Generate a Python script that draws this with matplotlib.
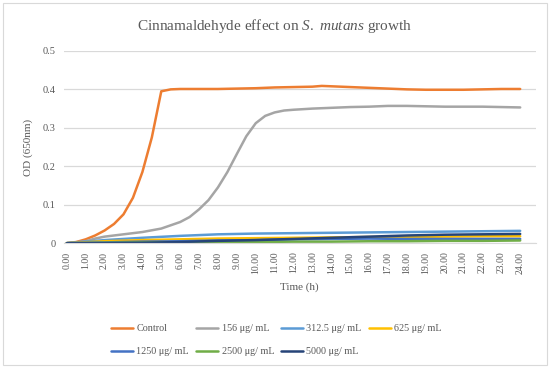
import matplotlib.pyplot as plt
from matplotlib.patches import Rectangle

# data (hours, OD 650nm)
hours_half = [0, 0.5, 1, 1.5, 2, 2.5, 3, 3.5, 4, 4.5, 4.75, 5, 5.5, 6, 7, 8, 9, 10,
              11, 12, 13, 13.5, 14, 15, 16, 17, 18, 19, 20, 21, 22, 23, 24]
control = [0.000, 0.003, 0.010, 0.020, 0.033, 0.050, 0.075, 0.118, 0.185, 0.275, 0.335,
           0.395, 0.400, 0.401, 0.401, 0.401, 0.402, 0.403,
           0.405, 0.406, 0.407, 0.409, 0.408, 0.406, 0.404, 0.402, 0.400, 0.399, 0.399,
           0.399, 0.400, 0.401, 0.401]

hours_156 = [0, 1, 1.5, 2, 3, 4, 5, 6, 6.5, 7, 7.5, 8, 8.5, 9, 9.5, 10, 10.5, 11,
             11.5, 12, 13, 14, 15, 16, 17, 18, 19, 20, 21, 22, 23, 24]
c156 = [0.000, 0.005, 0.012, 0.017, 0.023, 0.029, 0.038, 0.055, 0.068, 0.088, 0.112,
        0.145, 0.185, 0.232, 0.278, 0.312, 0.331, 0.340,
        0.345, 0.347, 0.350, 0.352, 0.354, 0.355, 0.357, 0.357, 0.356, 0.355, 0.355,
        0.355, 0.354, 0.353]

hours_low = [0, 2, 4, 6, 8, 10, 12, 14, 16, 18, 20, 22, 24]
c312 = [0, 0.008, 0.014, 0.019, 0.023, 0.025, 0.026, 0.027, 0.028, 0.029, 0.030, 0.031, 0.032]
c625 = [0, 0.005, 0.008, 0.010, 0.012, 0.013, 0.014, 0.015, 0.016, 0.016, 0.017, 0.018, 0.018]
c1250 = [0, 0.002, 0.004, 0.005, 0.007, 0.008, 0.010, 0.011, 0.012, 0.011, 0.011, 0.011, 0.011]
c2500 = [0, 0.001, 0.002, 0.002, 0.003, 0.003, 0.004, 0.004, 0.005, 0.005, 0.006, 0.006, 0.007]
c5000 = [0, 0.000, 0.001, 0.003, 0.006, 0.008, 0.011, 0.014, 0.017, 0.020, 0.022, 0.023, 0.024]

x_ticks = list(range(0, 25))
x_labels = [f"{h}.00" for h in x_ticks]
y_ticks = [0, 0.1, 0.2, 0.3, 0.4, 0.5]
y_labels = ["0", "0.1", "0.2", "0.3", "0.4", "0.5"]

plt.rcParams["font.family"] = ["Liberation Serif", "DejaVu Serif"]
plt.rcParams["mathtext.fontset"] = "custom"
plt.rcParams["mathtext.rm"] = "Liberation Serif"
plt.rcParams["mathtext.it"] = "Liberation Serif:italic"
text_color = "#595959"

fig = plt.figure(figsize=(5.5, 3.69), dpi=100)
fig.patches.append(Rectangle((0.006, 0.012), 0.988, 0.98, transform=fig.transFigure,
                             fill=False, edgecolor="#D9D9D9", linewidth=0.8))
ax = fig.add_axes([0.116, 0.341, 0.859, 0.521])

series = [
    ("Control", hours_half, control, "#ED7D31"),
    ("156 μg/ mL", hours_156, c156, "#A5A5A5"),
    ("312.5 μg/ mL", hours_low, c312, "#5B9BD5"),
    ("625 μg/ mL", hours_low, c625, "#FFC000"),
    ("1250 μg/ mL", hours_low, c1250, "#4472C4"),
    ("2500 μg/ mL", hours_low, c2500, "#70AD47"),
    ("5000 μg/ mL", hours_low, c5000, "#264478"),
]
handles = {}
for label, xs, ys, color in series:
    line, = ax.plot(xs, ys, color=color, linewidth=1.8, label=label, solid_capstyle="round")
    handles[label] = line

ax.set_xlim(-0.16, 24.85)
ax.set_ylim(0, 0.5)
ax.set_xticks(x_ticks)
ax.set_xticklabels(x_labels, rotation=90, fontsize=7, color=text_color)
ax.set_yticks(y_ticks)
ax.set_yticklabels(y_labels, fontsize=7.5, color=text_color)
ax.tick_params(length=0, pad=6)
ax.grid(axis="y", color="#D9D9D9", linewidth=0.9)
ax.set_axisbelow(True)
for side in ["top", "right", "left"]:
    ax.spines[side].set_visible(False)
ax.spines["bottom"].set_color("#D9D9D9")

fig.text(0.5, 0.93, "Cinnamaldehyde effect on $\\mathit{S.}$ $\\mathit{mutans}$ growth",
         ha="center", va="center", fontsize=11, color=text_color)
fig.text(0.052, 0.6, "OD (650nm)", rotation=90, ha="center", va="center",
         fontsize=8, color=text_color)
fig.text(0.545, 0.222, "Time (h)", ha="center", va="center", fontsize=8, color=text_color)

order = ["Control", "1250 μg/ mL", "156 μg/ mL", "2500 μg/ mL",
         "312.5 μg/ mL", "5000 μg/ mL", "625 μg/ mL"]
fig.legend([handles[k] for k in order], order, ncol=4, loc="upper left",
           bbox_to_anchor=(0.202, 0.122), frameon=False, fontsize=7.3,
           handlelength=2.2, handletextpad=0.3, columnspacing=0.7,
           labelcolor=text_color, labelspacing=1.4, borderpad=0, borderaxespad=0)

fig.savefig("out.png", dpi=100)
